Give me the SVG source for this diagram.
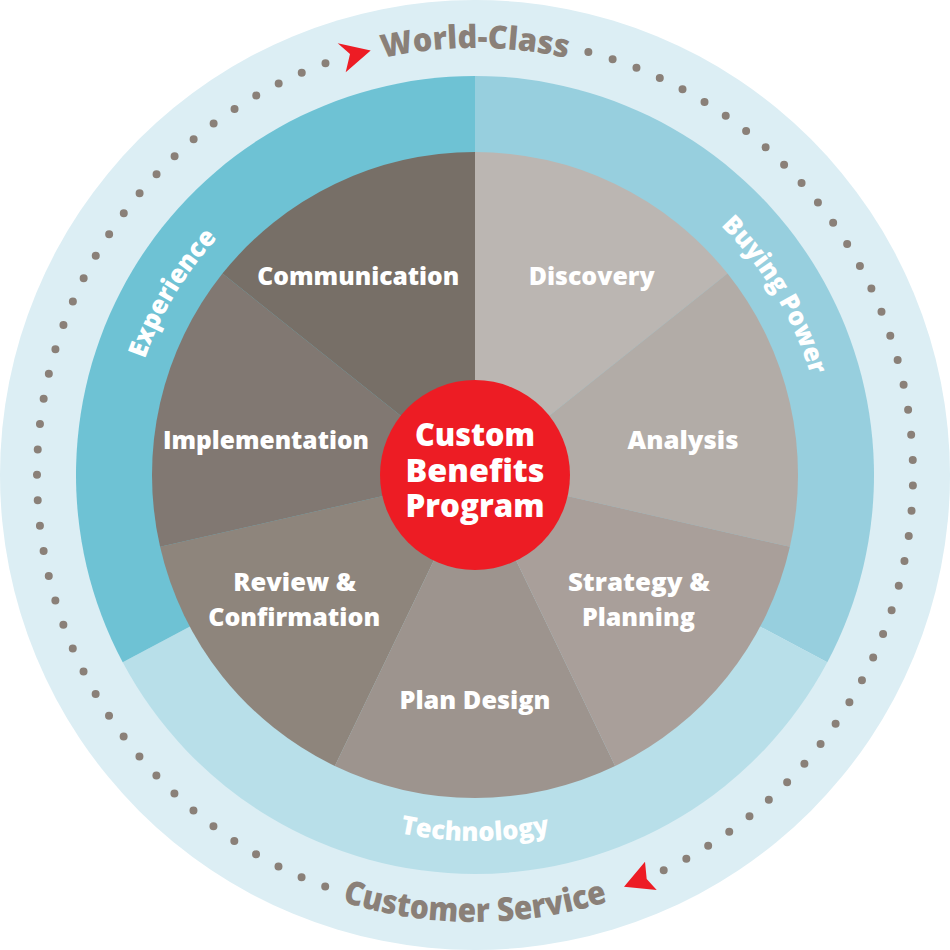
<svg xmlns="http://www.w3.org/2000/svg" xmlns:xlink="http://www.w3.org/1999/xlink" width="950" height="950" viewBox="0 0 950 950">
  <style>
    .lbl { font-family: "Open Sans", "Liberation Sans", sans-serif; font-weight: 800; fill: #ffffff; }
    .seg { font-size: 25px; text-anchor: middle; }
    .ring { font-size: 26px; }
    .outer { font-family: "Open Sans", "Liberation Sans", sans-serif; font-weight: 800; fill: #8A8078; }
    .center { font-size: 31px; text-anchor: middle; }
    .dots { fill: none; stroke: #8A8078; stroke-width: 8; stroke-linecap: round; }
    .arrow { fill: #ED1C24; }
  </style>
  <defs>
    <path id="pWorld" d="M200.53,147.90 A427,427 0 0 1 749.47,147.90"/>
    <path id="pCust" d="M187.67,817.42 A447,447 0 0 0 762.33,817.42"/>
    <path id="pTech" d="M239.74,755.37 A366,366 0 0 0 710.26,755.37"/>
    <path id="pExp" d="M130.32,535.78 A350,350 0 0 1 366.84,142.13"/>
    <path id="pBuy" d="M583.16,142.13 A350,350 0 0 1 819.68,535.78"/>
  </defs>

  <g id="background">
    <circle cx="475" cy="475" r="475" fill="#DCEEF4"/>
  </g>

  <g id="ring-buying-power">
    <path d="M475,475 L475,76 A399,399 0 0 1 827.3,662.3 Z" fill="#97CFDE"/>
    <text class="lbl ring"><textPath xlink:href="#pBuy" href="#pBuy" startOffset="50%" text-anchor="middle" textLength="176" lengthAdjust="spacingAndGlyphs">Buying Power</textPath></text>
  </g>
  <g id="ring-technology">
    <path d="M475,475 L827.3,662.3 A399,399 0 0 1 122.7,662.3 Z" fill="#B8DFE9"/>
    <text class="lbl ring"><textPath xlink:href="#pTech" href="#pTech" startOffset="50%" text-anchor="middle" textLength="151" lengthAdjust="spacingAndGlyphs">Technology</textPath></text>
  </g>
  <g id="ring-experience">
    <path d="M475,475 L122.7,662.3 A399,399 0 0 1 475,76 Z" fill="#6EC2D4"/>
    <text class="lbl ring"><textPath xlink:href="#pExp" href="#pExp" startOffset="50%" text-anchor="middle" textLength="142" lengthAdjust="spacingAndGlyphs">Experience</textPath></text>
  </g>

  <g id="seg-discovery">
    <path d="M475,475 L475,152 A323,323 0 0 1 727.53,273.61 Z" fill="#BBB6B2"/>
    <text class="lbl seg" x="591.7" y="285" textLength="126" lengthAdjust="spacingAndGlyphs">Discovery</text>
  </g>
  <g id="seg-analysis">
    <path d="M475,475 L727.53,273.61 A323,323 0 0 1 789.90,546.87 Z" fill="#B2ACA7"/>
    <text class="lbl seg" x="683" y="449" textLength="111" lengthAdjust="spacingAndGlyphs">Analysis</text>
  </g>
  <g id="seg-strategy">
    <path d="M475,475 L789.90,546.87 A323,323 0 0 1 615.14,766.01 Z" fill="#A99F9A"/>
    <text class="lbl seg" x="638.9" y="591" textLength="142" lengthAdjust="spacingAndGlyphs">Strategy &amp;</text>
    <text class="lbl seg" x="638.4" y="625.5" textLength="113" lengthAdjust="spacingAndGlyphs">Planning</text>
  </g>
  <g id="seg-plan-design">
    <path d="M475,475 L615.14,766.01 A323,323 0 0 1 334.86,766.01 Z" fill="#9D948E"/>
    <text class="lbl seg" x="475" y="708.5" textLength="151" lengthAdjust="spacingAndGlyphs">Plan Design</text>
  </g>
  <g id="seg-review">
    <path d="M475,475 L334.86,766.01 A323,323 0 0 1 160.10,546.87 Z" fill="#8E857C"/>
    <text class="lbl seg" x="294.7" y="591" textLength="123" lengthAdjust="spacingAndGlyphs">Review &amp;</text>
    <text class="lbl seg" x="294.2" y="625.5" textLength="172" lengthAdjust="spacingAndGlyphs">Confirmation</text>
  </g>
  <g id="seg-implementation">
    <path d="M475,475 L160.10,546.87 A323,323 0 0 1 222.47,273.61 Z" fill="#817872"/>
    <text class="lbl seg" x="266" y="449" textLength="206" lengthAdjust="spacingAndGlyphs">Implementation</text>
  </g>
  <g id="seg-communication">
    <path d="M475,475 L222.47,273.61 A323,323 0 0 1 475,152 Z" fill="#776F67"/>
    <text class="lbl seg" x="358.3" y="285" textLength="202" lengthAdjust="spacingAndGlyphs">Communication</text>
  </g>

  <g id="center">
    <circle cx="475" cy="475" r="95" fill="#ED1C24"/>
    <text class="lbl center"><tspan x="475" y="446" textLength="120" lengthAdjust="spacingAndGlyphs">Custom</tspan><tspan x="475" y="481.5" textLength="139" lengthAdjust="spacingAndGlyphs">Benefits</tspan><tspan x="475" y="516.5" textLength="139" lengthAdjust="spacingAndGlyphs">Program</tspan></text>
  </g>

  <g id="connectors">
    <path class="dots" d="M588.36,51.92 A438,438 0 0 1 657.33,873.25" stroke-dasharray="0 25.38"/>
    <path class="dots" d="M325.20,886.59 A438,438 0 0 1 332.40,60.86" stroke-dasharray="0 25.4818"/>
    <polygon class="arrow" points="337.7,43.3 370.7,50.5 345.7,72.3 350,54"/>
    <polygon class="arrow" points="645,861.7 624,886.7 656.7,890 646.7,879"/>
  </g>

  <g id="label-world-class">
    <text class="outer" font-size="32"><textPath xlink:href="#pWorld" href="#pWorld" startOffset="50%" text-anchor="middle" textLength="186" lengthAdjust="spacingAndGlyphs">World-Class</textPath></text>
  </g>
  <g id="label-customer-service">
    <text class="outer" font-size="33"><textPath xlink:href="#pCust" href="#pCust" startOffset="50%" text-anchor="middle" textLength="270" lengthAdjust="spacingAndGlyphs">Customer Service</textPath></text>
  </g>
</svg>
